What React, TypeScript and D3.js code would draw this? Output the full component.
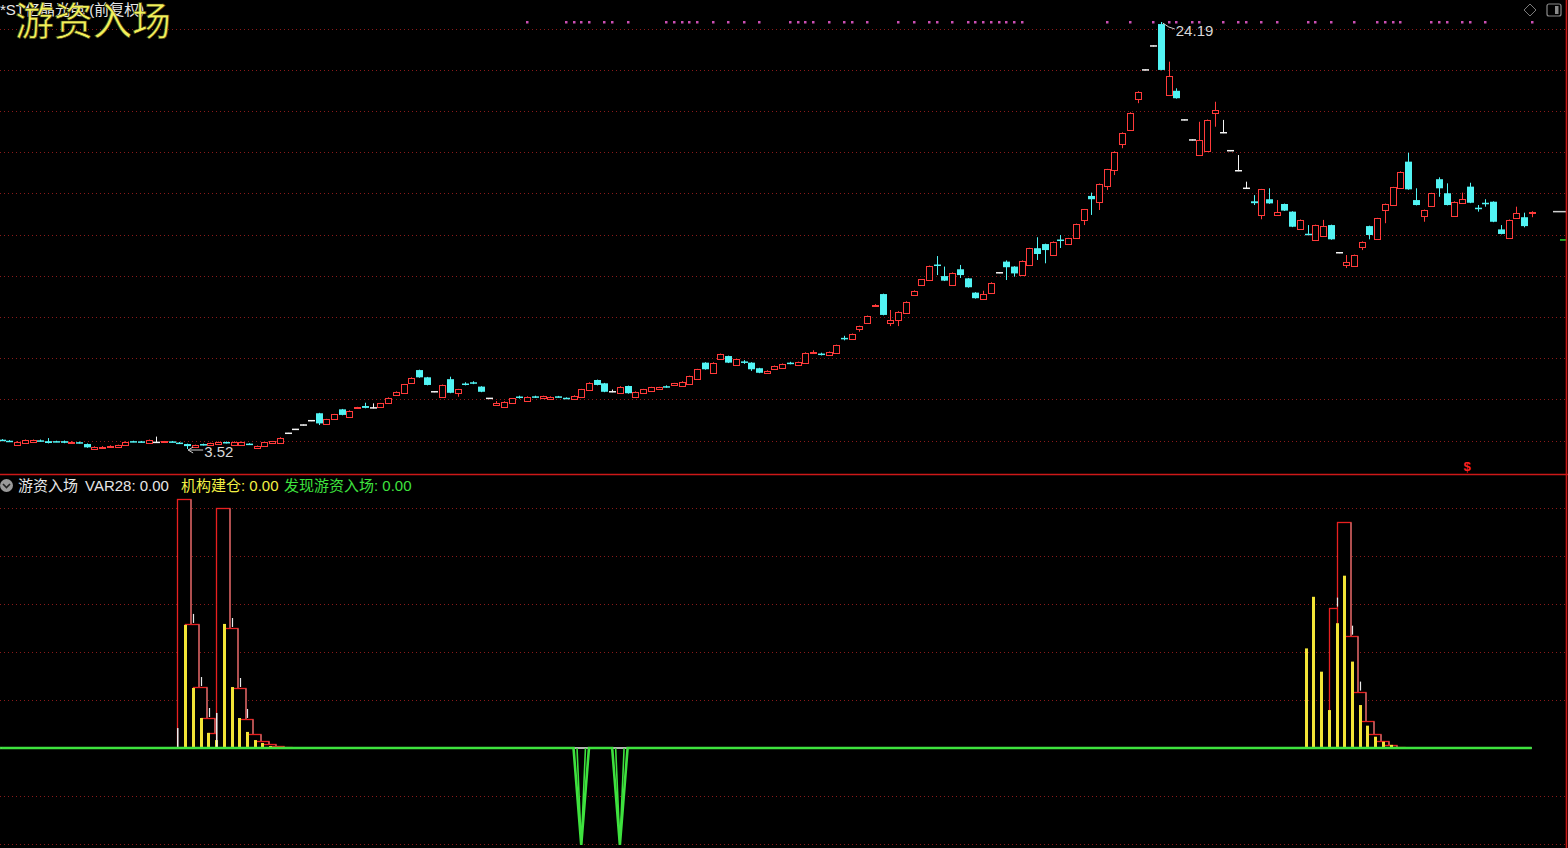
import React, { useEffect } from 'react';
import * as d3 from 'd3';

const W = 1568;
const H = 848;

// ---- main panel: daily candles (前复权) ----
const opens = [
  3.97, 3.92, 3.71, 3.83, 3.86, 3.94, 3.90, 3.90, 3.90, 3.83, 3.85, 3.76, 3.54, 3.61, 3.64, 3.60, 3.70, 3.90, 3.89, 3.80,
  3.84, 3.86, 3.89, 3.83, 3.76, 3.62, 3.76, 3.71, 3.76, 3.86, 3.71, 3.71, 3.78, 3.55, 3.67, 3.83, 3.83, 4.28, 4.47, 4.68,
  4.89, 5.25, 4.72, 4.96, 5.44, 5.08, 5.49, 5.60, 5.51, 5.57, 5.73, 6.12, 6.24, 6.73, 7.34, 6.99, 6.29, 6.02, 6.90, 6.24,
  6.69, 6.75, 6.54, 5.97, 5.65, 5.54, 5.76, 6.06, 5.86, 6.07, 5.97, 5.96, 6.07, 6.00, 5.92, 6.02, 6.38, 6.86, 6.70, 6.29,
  6.22, 6.57, 6.05, 6.24, 6.34, 6.41, 6.56, 6.62, 6.57, 6.67, 6.90, 7.70, 7.18, 7.86, 8.02, 7.59, 7.76, 7.70, 7.43, 7.21,
  7.38, 7.43, 7.70, 7.57, 7.70, 8.16, 8.14, 8.07, 8.18, 8.90, 8.83, 9.31, 9.60, 10.47, 11.02, 9.61, 9.77, 10.12, 10.97, 11.46,
  11.70, 12.45, 11.89, 11.46, 12.22, 11.78, 11.09, 10.78, 11.06, 12.05, 12.59, 12.35, 11.94, 12.43, 13.24, 13.44, 12.91, 13.66, 13.44, 13.72,
  14.61, 15.77, 15.49, 16.25, 17.03, 18.29, 18.96, 20.45, 21.87, 23.03, 24.09, 20.66, 20.86, 19.45, 18.48, 17.75, 17.96, 19.77, 18.83, 17.96,
  16.99, 16.14, 15.51, 14.85, 15.61, 14.85, 15.38, 15.01, 14.16, 13.94, 13.64, 13.83, 14.36, 13.02, 12.43, 12.38, 13.28, 14.31, 13.67, 15.09,
  15.33, 16.14, 17.43, 15.57, 14.80, 15.28, 16.58, 15.90, 14.80, 15.41, 16.22, 15.20, 15.44, 15.49, 14.15, 13.72, 14.69, 14.74, 14.93,
];
const highs = [
  4.00, 3.95, 3.90, 3.98, 3.98, 3.98, 4.05, 3.92, 3.93, 3.90, 3.88, 3.79, 3.65, 3.66, 3.70, 3.73, 3.89, 3.92, 3.91, 3.98,
  4.12, 3.91, 3.91, 3.86, 3.78, 3.73, 3.78, 3.83, 3.88, 3.88, 3.89, 3.88, 3.80, 3.69, 3.86, 3.91, 4.09, 4.30, 4.49, 4.70,
  4.91, 5.27, 4.98, 5.22, 5.46, 5.39, 5.56, 5.76, 5.73, 5.75, 6.02, 6.31, 6.67, 6.99, 7.36, 7.01, 6.31, 6.64, 7.02, 6.43,
  6.75, 6.80, 6.56, 5.99, 5.84, 5.83, 5.99, 6.10, 6.07, 6.10, 6.10, 6.07, 6.09, 6.02, 6.12, 6.43, 6.75, 6.88, 6.72, 6.40,
  6.56, 6.59, 6.31, 6.43, 6.53, 6.53, 6.60, 6.72, 6.80, 7.07, 7.40, 7.72, 7.72, 8.14, 8.04, 7.88, 7.82, 7.72, 7.45, 7.33,
  7.56, 7.66, 7.74, 7.75, 8.20, 8.30, 8.18, 8.24, 8.57, 9.00, 9.11, 9.49, 9.98, 10.53, 11.04, 10.25, 10.19, 10.67, 11.20, 11.75,
  12.40, 12.86, 12.35, 12.07, 12.43, 11.80, 11.11, 11.18, 11.59, 12.07, 12.65, 12.37, 12.65, 13.26, 13.77, 13.46, 13.57, 13.88, 13.74, 14.43,
  15.14, 15.93, 16.37, 17.08, 17.93, 18.85, 19.82, 20.84, 21.89, 23.05, 24.19, 22.27, 20.98, 19.47, 18.50, 19.36, 19.47, 20.33, 19.45, 17.98,
  17.75, 16.46, 15.81, 16.11, 16.14, 15.57, 15.40, 15.03, 14.63, 14.36, 14.38, 14.61, 14.38, 13.04, 12.91, 12.93, 13.57, 14.33, 14.71, 15.40,
  16.21, 16.96, 17.86, 16.14, 15.11, 15.92, 16.67, 16.38, 15.51, 15.93, 16.41, 15.33, 15.61, 15.51, 14.36, 14.63, 15.25, 14.96, 15.03,
];
const lows = [
  3.92, 3.87, 3.69, 3.81, 3.84, 3.89, 3.79, 3.85, 3.80, 3.81, 3.79, 3.58, 3.53, 3.59, 3.62, 3.58, 3.69, 3.85, 3.84, 3.78,
  3.82, 3.84, 3.84, 3.76, 3.52, 3.60, 3.69, 3.69, 3.74, 3.79, 3.69, 3.70, 3.72, 3.53, 3.65, 3.81, 3.81, 4.26, 4.45, 4.66,
  4.87, 4.68, 4.70, 4.94, 5.15, 5.06, 5.47, 5.49, 5.49, 5.55, 5.71, 6.10, 6.22, 6.71, 6.97, 6.60, 6.27, 6.00, 6.22, 6.05,
  6.60, 6.66, 6.27, 5.95, 5.63, 5.52, 5.74, 5.96, 5.84, 5.99, 5.95, 5.94, 6.01, 5.94, 5.90, 6.00, 6.36, 6.60, 6.27, 6.27,
  6.20, 6.20, 6.03, 6.22, 6.32, 6.39, 6.49, 6.60, 6.55, 6.65, 6.88, 7.36, 7.16, 7.84, 7.68, 7.57, 7.64, 7.30, 7.19, 7.19,
  7.36, 7.41, 7.62, 7.55, 7.68, 8.14, 8.05, 8.05, 8.16, 8.78, 8.81, 9.20, 9.58, 10.45, 9.99, 9.47, 9.47, 10.10, 10.95, 11.44,
  11.68, 11.94, 11.65, 11.44, 11.80, 11.33, 10.80, 10.76, 11.04, 12.03, 11.70, 11.86, 11.92, 12.41, 12.67, 12.51, 12.89, 13.25, 13.42, 13.70,
  14.36, 14.85, 15.09, 16.06, 16.78, 18.08, 18.94, 20.26, 21.85, 23.01, 21.85, 20.64, 20.48, 19.43, 18.46, 17.73, 17.94, 19.12, 18.81, 17.94,
  16.97, 16.12, 15.33, 14.64, 15.39, 14.83, 15.04, 14.26, 14.14, 13.88, 13.62, 13.81, 13.65, 13.00, 12.28, 12.36, 13.15, 13.67, 13.65, 14.45,
  15.31, 16.12, 16.07, 15.31, 14.52, 15.26, 15.73, 15.31, 14.78, 15.39, 15.42, 15.01, 15.25, 14.50, 13.91, 13.70, 14.67, 14.25, 14.74,
];
const closes = [
  3.94, 3.90, 3.87, 3.96, 3.95, 3.92, 3.81, 3.87, 3.82, 3.87, 3.81, 3.60, 3.63, 3.64, 3.68, 3.71, 3.87, 3.87, 3.86, 3.96,
  3.84, 3.89, 3.86, 3.78, 3.66, 3.71, 3.71, 3.81, 3.86, 3.81, 3.87, 3.86, 3.74, 3.67, 3.84, 3.89, 4.07, 4.28, 4.47, 4.68,
  4.89, 4.76, 4.96, 5.20, 5.17, 5.37, 5.54, 5.51, 5.51, 5.73, 6.00, 6.29, 6.65, 6.97, 6.99, 6.62, 6.29, 6.62, 6.24, 6.41,
  6.65, 6.71, 6.29, 5.97, 5.75, 5.81, 5.97, 6.02, 6.05, 6.03, 6.08, 6.05, 6.03, 5.96, 6.10, 6.41, 6.73, 6.62, 6.29, 6.29,
  6.54, 6.22, 6.29, 6.41, 6.51, 6.51, 6.53, 6.70, 6.78, 7.05, 7.38, 7.38, 7.70, 8.12, 7.70, 7.86, 7.72, 7.38, 7.21, 7.31,
  7.54, 7.64, 7.66, 7.73, 8.18, 8.20, 8.10, 8.22, 8.55, 8.85, 9.09, 9.47, 9.96, 10.51, 10.01, 9.77, 10.17, 10.65, 11.18, 11.73,
  12.38, 12.40, 11.67, 12.05, 11.94, 11.35, 10.82, 11.02, 11.57, 12.05, 12.32, 12.02, 12.63, 13.24, 12.96, 13.15, 13.55, 13.61, 13.72, 14.41,
  15.12, 15.61, 16.35, 17.06, 17.91, 18.83, 19.80, 20.82, 21.87, 23.03, 21.87, 21.58, 20.50, 19.45, 18.48, 18.48, 19.45, 19.93, 18.83, 17.96,
  16.99, 16.14, 15.42, 16.09, 15.41, 15.01, 15.06, 14.28, 14.61, 13.90, 14.36, 14.31, 13.67, 13.02, 12.57, 12.91, 13.55, 13.88, 14.69, 15.38,
  16.19, 16.94, 16.09, 15.33, 15.09, 15.90, 16.14, 15.33, 15.49, 15.61, 15.44, 15.17, 15.41, 14.52, 13.93, 14.61, 14.96, 14.31, 15.01,
];
const highLabel = '24.19';
const lowLabel = '3.52';
const sideMarkLevel = 13.64;
// bars flagged by the pink dot row at the top
const dotIndex = [68, 73, 74, 75, 76, 78, 79, 81, 86, 87, 88, 89, 90, 92, 94, 96, 98, 102, 103, 104, 105, 107, 109, 110, 112,
  116, 118, 120, 121, 123, 125, 126, 127, 128, 129, 130, 131, 132, 143, 146, 149, 151, 152, 154, 155, 158, 160, 161, 163, 165,
  169, 170, 172, 175, 178, 179, 180, 181, 185, 186, 187, 189, 190, 192, 198];

// ---- indicator panel ----
const boxIndex = [23, 24, 25, 26, 27, 28, 29, 30, 31, 32, 33, 34, 35, 36, 172, 173, 174, 175, 176, 177, 178, 179, 180];
const boxValue = [103.8, 51.7, 25.4, 12.5, 6.3, 100, 50, 25, 12.1, 5.8, 2.9, 1.5, 0.8, 0.4, 58.5, 94.3, 46.8, 23.5, 11.4, 5.8, 2.9, 1.3, 0.6];
const tickBoxes = [24, 25, 26, 29, 30, 31, 172, 174, 175];
const yellowIndex = [24, 25, 26, 27, 28, 29, 30, 31, 32, 33, 34, 35, 36, 169, 170, 171, 172, 173, 174, 175, 176, 177, 178, 179, 180];
const yellowValue = [51.3, 25, 12.5, 6.3, 3.3, 51.7, 25.4, 12.5, 6.7, 3.3, 2.1, 0.8, 0.4, 41.5, 63, 31.8, 15.8, 52, 71.8, 36, 17.9, 9.3, 4.7, 2.6, 1.3];
const whiteIndex = [23, 28];
const whiteValue = [8.3, 14.6];
const dipIndex = [75, 80];
const dipValue = [-40.4, -40.4];
const lowerGrid = [100, 80, 60, 40, 20, -20, -40];

const legendItems = [
  { text: '游资入场', color: '#e6e6e6', x: 18 },
  { text: 'VAR28: 0.00', color: '#e6e6e6', x: 85 },
  { text: '机构建仓: 0.00', color: '#f2f044', x: 181 },
  { text: '发现游资入场: 0.00', color: '#3ee23e', x: 284 },
];

const RED = '#ff3a3a';
const CYAN = '#52f4f4';
const GREEN = '#3ee23e';
const FONT = "'Liberation Sans', 'Noto Sans CJK SC', sans-serif";

export default function App() {
  useEffect(() => {
    document.body.style.margin = '0';
    document.body.style.background = '#000';
  }, []);

  const n = closes.length;
  const x = d3.scaleLinear().domain([0, n - 1]).range([1.7, 1531.7]);
  const y = d3.scaleLinear().domain([3.52, 24.19]).range([449, 22]);
  const yl = d3.scaleLinear().domain([0, 100]).range([748, 508]);
  const gridPrices = d3.range(11).map((k) => 3.931 + 1.9944 * k);

  const hiIdx = d3.maxIndex(highs);
  const loIdx = d3.minIndex(lows);

  const greenVals = d3.range(n).map((i) => {
    const k = dipIndex.indexOf(i);
    return k >= 0 ? dipValue[k] : 0;
  });
  const greenPath = d3
    .line<number>()
    .x((_, i) => x(i))
    .y((v) => yl(v))(greenVals) as string;
  // inner arm of each dip (the reference shows each V drawn as a narrow double stroke)
  const innerV = d3.line<[number, number]>();
  const innerPaths = dipIndex.map((idx, k) =>
    innerV([
      [x(idx - 1) + 3.5, yl(0)],
      [x(idx), yl(dipValue[k])],
      [x(idx + 1) - 3.5, yl(0)],
    ]) as string
  );

  const candles = d3.range(n).map((i) => {
    const o = opens[i], c = closes[i], h = highs[i], l = lows[i];
    const cx = Math.round(x(i)) + 0.5;
    const yo = y(o), yc = y(c), yh = y(h), ylow = y(l);
    if (c > o) {
      const top = Math.round(yc) + 0.5;
      const bot = Math.round(yo) + 0.5;
      return (
        <g key={i} stroke={RED} strokeWidth={1}>
          <line x1={cx} x2={cx} y1={yh} y2={top} />
          <line x1={cx} x2={cx} y1={bot} y2={ylow} />
          <rect x={cx - 3} y={top} width={6} height={Math.max(bot - top, 1)} fill="#000" />
        </g>
      );
    }
    if (c < o) {
      return (
        <g key={i}>
          <line x1={cx} x2={cx} y1={yh} y2={ylow} stroke={CYAN} strokeWidth={1} />
          <rect x={cx - 3.5} y={yo} width={7} height={Math.max(yc - yo, 1.5)} fill={CYAN} />
        </g>
      );
    }
    return (
      <g key={i} stroke="#f4f4f4" strokeWidth={1}>
        <line x1={cx} x2={cx} y1={yh} y2={ylow} />
        <line x1={cx - 3.5} x2={cx + 3.5} y1={yo} y2={yo} strokeWidth={1.5} />
      </g>
    );
  });

  const boxW = 13.5;

  return (
    <div style={{ position: 'fixed', left: 0, top: 0, width: W, height: H, background: '#000' }}>
      <svg width={W} height={H} style={{ display: 'block' }} fontFamily={FONT}>
        <rect x={0} y={0} width={W} height={H} fill="#000" />

        {/* main grid */}
        {gridPrices.map((p, k) => (
          <line key={k} x1={0} x2={1566} y1={Math.round(y(p)) + 0.5} y2={Math.round(y(p)) + 0.5}
            stroke="#8a1a1a" strokeWidth={1} strokeDasharray="1,3" />
        ))}

        {/* pink signal dots */}
        {dotIndex.map((i) => (
          <rect key={i} x={Math.round(x(i)) - 1} y={21} width={2.5} height={2.5} fill="#cc4fb4" />
        ))}

        {candles}

        {/* high / low labels */}
        <path d={`M${x(hiIdx) + 2},${y(highs[hiIdx]) + 1} L${x(hiIdx) + 8},${y(highs[hiIdx]) + 5} L${x(hiIdx) + 14},${y(highs[hiIdx]) + 7}`}
          stroke="#d0d0d0" fill="none" strokeWidth={1} />
        <text x={x(hiIdx) + 15} y={y(highs[hiIdx]) + 14} fill="#d8d8d8" fontSize={15}>{highLabel}</text>
        <line x1={x(loIdx) + 1} x2={x(loIdx) + 16} y1={y(lows[loIdx]) + 1} y2={y(lows[loIdx]) + 1} stroke="#d0d0d0" strokeWidth={1} />
        <path d={`M${x(loIdx) + 1},${y(lows[loIdx]) + 1} l5,-3 M${x(loIdx) + 1},${y(lows[loIdx]) + 1} l5,3`} stroke="#d0d0d0" fill="none" />
        <text x={x(loIdx) + 17} y={y(lows[loIdx]) + 8} fill="#d8d8d8" fontSize={15}>{lowLabel}</text>

        {/* right side markers */}
        <line x1={1553} x2={1566} y1={y(closes[n - 1])} y2={y(closes[n - 1])} stroke="#cfcfcf" strokeWidth={1.5} />
        <line x1={1560} x2={1566} y1={y(sideMarkLevel)} y2={y(sideMarkLevel)} stroke="#30d030" strokeWidth={1.5} />

        {/* title */}
        <text x={0} y={15} fill="#e8e8e8" fontSize={15}>*ST亿晶光电 (前复权)</text>
        <text x={15} y={35} fill="#f2f05a" fontSize={39} fontFamily="'Noto Sans CJK SC'" stroke="#3a3a10" strokeWidth={0.6}>游资入场</text>

        {/* top-right icons */}
        <path d="M1530,4 L1536,10 L1530,16 L1524,10 Z" fill="none" stroke="#7a7a7a" strokeWidth={1} />
        <rect x={1547} y={4} width={14} height={12} rx={2} fill="none" stroke="#8a8a8a" strokeWidth={1.2} />
        <rect x={1555} y={6} width={3.5} height={8} fill="#8a8a8a" />

        {/* dollar marker */}
        <text x={1467} y={471} fill="#ff2020" fontSize={13} fontWeight="bold" textAnchor="middle">$</text>

        {/* separator and right border */}
        <line x1={0} x2={W} y1={474.5} y2={474.5} stroke="#cc1818" strokeWidth={1.6} />
        <line x1={1566.5} x2={1566.5} y1={0} y2={H} stroke="#cc1818" strokeWidth={1.6} />

        {/* lower grid */}
        {lowerGrid.map((v) => (
          <line key={v} x1={0} x2={1566} y1={Math.round(yl(v)) + 0.5} y2={Math.round(yl(v)) + 0.5}
            stroke="#8a1a1a" strokeWidth={1} strokeDasharray="1,3" />
        ))}

        {/* legend */}
        <circle cx={6.5} cy={485.5} r={6.5} fill="#9a9a9a" />
        <path d="M3,484 L6.5,487.5 L10,484" stroke="#222" strokeWidth={1.6} fill="none" />
        {legendItems.map((it) => (
          <text key={it.text} x={it.x} y={491} fill={it.color} fontSize={15}>{it.text}</text>
        ))}

        {/* red hollow boxes */}
        {boxIndex.map((idx, k) => {
          const left = Math.round(x(idx)) - 1.5;
          const top = Math.round(yl(boxValue[k])) + 0.5;
          const base = yl(0);
          return (
            <g key={idx}>
              <rect x={left} y={top} width={boxW} height={base - top} fill="#000" stroke="#e82020" strokeWidth={1.3} />
              <line x1={left + boxW} x2={left + boxW} y1={top} y2={base} stroke="#c88a8a" strokeWidth={1} />
            </g>
          );
        })}
        {tickBoxes.map((idx) => {
          const k = boxIndex.indexOf(idx);
          const top = yl(boxValue[k]);
          const tx = Math.round(x(idx)) + 6.5;
          return <line key={idx} x1={tx} x2={tx} y1={top - 10} y2={top - 1} stroke="#e8e8e8" strokeWidth={1.2} />;
        })}

        {/* yellow sticks */}
        {yellowIndex.map((idx, k) => {
          const top = yl(yellowValue[k]);
          return <rect key={idx} x={Math.round(x(idx)) - 3} y={top} width={3} height={yl(0) - top} fill="#f2e436" />;
        })}
        {whiteIndex.map((idx, k) => {
          const top = yl(whiteValue[k]);
          return <rect key={idx} x={Math.round(x(idx)) - 2} y={top} width={1.5} height={yl(0) - top} fill="#eeeeee" />;
        })}

        {/* baseline and green line */}
        <line x1={0} x2={x(n - 1)} y1={yl(0)} y2={yl(0)} stroke="#f0f0f0" strokeWidth={1.5} />
        <path d={greenPath} fill="none" stroke={GREEN} strokeWidth={2.6} strokeLinejoin="miter" />
        {innerPaths.map((d, k) => (
          <path key={k} d={d} fill="none" stroke={GREEN} strokeWidth={1.6} />
        ))}
        <line x1={0} x2={x(0)} y1={yl(0)} y2={yl(0)} stroke={GREEN} strokeWidth={2.6} />
      </svg>
    </div>
  );
}
